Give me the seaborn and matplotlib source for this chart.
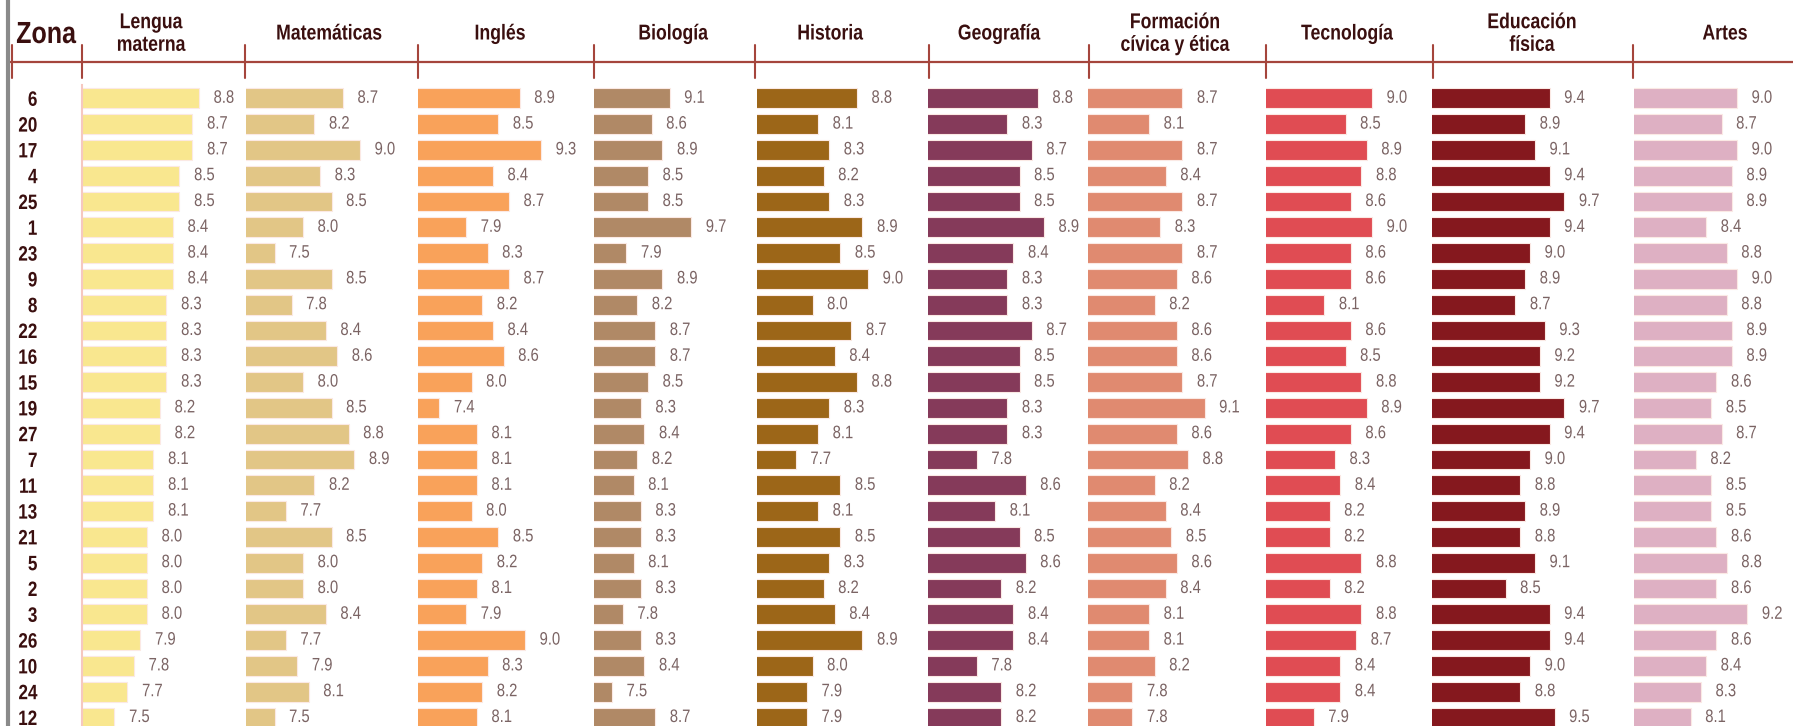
import matplotlib
matplotlib.use("Agg")
import matplotlib.pyplot as plt
from matplotlib.lines import Line2D
from matplotlib.patheffects import AbstractPathEffect
from matplotlib.transforms import Affine2D
import seaborn as sns

# zones in display order
zonas = ['6', '20', '17', '4', '25', '1', '23', '9', '8', '22', '16', '15', '19',
         '27', '7', '11', '13', '21', '5', '2', '3', '26', '10', '24', '12']

lengua = [8.8, 8.7, 8.7, 8.5, 8.5, 8.4, 8.4, 8.4, 8.3, 8.3, 8.3, 8.3, 8.2,
          8.2, 8.1, 8.1, 8.1, 8.0, 8.0, 8.0, 8.0, 7.9, 7.8, 7.7, 7.5]
matematicas = [8.7, 8.2, 9.0, 8.3, 8.5, 8.0, 7.5, 8.5, 7.8, 8.4, 8.6, 8.0, 8.5,
               8.8, 8.9, 8.2, 7.7, 8.5, 8.0, 8.0, 8.4, 7.7, 7.9, 8.1, 7.5]
ingles = [8.9, 8.5, 9.3, 8.4, 8.7, 7.9, 8.3, 8.7, 8.2, 8.4, 8.6, 8.0, 7.4,
          8.1, 8.1, 8.1, 8.0, 8.5, 8.2, 8.1, 7.9, 9.0, 8.3, 8.2, 8.1]
biologia = [9.1, 8.6, 8.9, 8.5, 8.5, 9.7, 7.9, 8.9, 8.2, 8.7, 8.7, 8.5, 8.3,
            8.4, 8.2, 8.1, 8.3, 8.3, 8.1, 8.3, 7.8, 8.3, 8.4, 7.5, 8.7]
historia = [8.8, 8.1, 8.3, 8.2, 8.3, 8.9, 8.5, 9.0, 8.0, 8.7, 8.4, 8.8, 8.3,
            8.1, 7.7, 8.5, 8.1, 8.5, 8.3, 8.2, 8.4, 8.9, 8.0, 7.9, 7.9]
geografia = [8.8, 8.3, 8.7, 8.5, 8.5, 8.9, 8.4, 8.3, 8.3, 8.7, 8.5, 8.5, 8.3,
             8.3, 7.8, 8.6, 8.1, 8.5, 8.6, 8.2, 8.4, 8.4, 7.8, 8.2, 8.2]
civica = [8.7, 8.1, 8.7, 8.4, 8.7, 8.3, 8.7, 8.6, 8.2, 8.6, 8.6, 8.7, 9.1,
          8.6, 8.8, 8.2, 8.4, 8.5, 8.6, 8.4, 8.1, 8.1, 8.2, 7.8, 7.8]
tecnologia = [9.0, 8.5, 8.9, 8.8, 8.6, 9.0, 8.6, 8.6, 8.1, 8.6, 8.5, 8.8, 8.9,
              8.6, 8.3, 8.4, 8.2, 8.2, 8.8, 8.2, 8.8, 8.7, 8.4, 8.4, 7.9]
ed_fisica = [9.4, 8.9, 9.1, 9.4, 9.7, 9.4, 9.0, 8.9, 8.7, 9.3, 9.2, 9.2, 9.7,
             9.4, 9.0, 8.8, 8.9, 8.8, 9.1, 8.5, 9.4, 9.4, 9.0, 8.8, 9.5]
artes = [9.0, 8.7, 9.0, 8.9, 8.9, 8.4, 8.8, 9.0, 8.8, 8.9, 8.9, 8.6, 8.5,
         8.7, 8.2, 8.5, 8.5, 8.6, 8.8, 8.6, 9.2, 8.6, 8.4, 8.3, 8.1]

titulos = ['Lengua\nmaterna', 'Matemáticas', 'Inglés', 'Biología', 'Historia',
           'Geografía', 'Formación\ncívica y ética', 'Tecnología', 'Educación\nfísica', 'Artes']
series = [lengua, matematicas, ingles, biologia, historia,
          geografia, civica, tecnologia, ed_fisica, artes]

colores = ['#f9e78f', '#e2c686', '#f9a25a', '#b08966', '#9c6618',
           '#853a5a', '#e08a70', '#e04c53', '#85181e', '#deb0c3']

# layout in pixels (figure 1793 x 726)
W, H = 1793, 726
starts = [82, 246, 418, 594, 757, 928, 1088, 1266, 1432, 1634, 1793]
px_per_unit = [65, 57, 53.5, 36, 55.5, 61, 55.5, 53, 49, 51.5]
title_x = [151, 329, 500, 673, 830, 999, 1175, 1347, 1532, 1725]
sep_x = [12, 82, 245, 418, 594, 755, 929, 1089, 1266, 1433, 1633]
row0, pitch = 98.3, 25.8
base = 7.0


class Narrow(AbstractPathEffect):
    """squeeze text horizontally, like a condensed face"""
    def __init__(self, factor=0.82, anchor='left'):
        super().__init__()
        self.factor = factor
        self.anchor = anchor

    def draw_path(self, renderer, gc, tpath, affine, rgbFace=None):
        ext = tpath.get_extents()
        x0 = {'left': 0.0, 'center': (ext.x0 + ext.x1) / 2, 'right': ext.x1}[self.anchor]
        sq = Affine2D().translate(-x0, 0).scale(self.factor, 1).translate(x0, 0)
        renderer.draw_path(gc, tpath, sq + affine, rgbFace)


sns.set_style("white")
plt.rcParams['font.family'] = ['Liberation Sans', 'DejaVu Sans']

fig = plt.figure(figsize=(W / 100, H / 100), dpi=100)

top_px = row0 - pitch / 2
bot_px = row0 + pitch * (len(zonas) - 0.5)

for i, vals in enumerate(series):
    x0 = starts[i]
    w = starts[i + 1] - x0
    ax = fig.add_axes([x0 / W, 1 - bot_px / H, w / W, (bot_px - top_px) / H])
    sns.barplot(x=vals, y=zonas, order=zonas, orient='h', ax=ax, color=colores[i],
                saturation=1, width=0.775, edgecolor='#fbe9e4', linewidth=0.8)
    ax.set_xlim(base, base + w / px_per_unit[i])
    ax.set_ylim(len(zonas) - 0.5, -0.5)
    labels = ax.bar_label(ax.containers[0], fmt='%.1f', padding=10.5,
                          color='#7b6464', fontsize=13)
    for t in labels:
        t.set_path_effects([Narrow(anchor='left')])
    ax.set_xticks([])
    ax.set_xlabel('')
    ax.set_ylabel('')
    for s in ax.spines.values():
        s.set_visible(False)
    if i == 0:
        ax.spines['left'].set_visible(True)
        ax.spines['left'].set_color('#f6c8c0')
        ax.spines['left'].set_linewidth(1.5)
        ax.tick_params(axis='y', length=0, pad=32)
        for t in ax.get_yticklabels():
            t.set_fontweight('bold')
            t.set_fontsize(15)
            t.set_color('#3a0f0f')
            t.set_path_effects([Narrow(anchor='right')])
    else:
        ax.set_yticks([])
    ax.patch.set_alpha(0)

# header
fig.text(46 / W, 1 - 35 / H, 'Zona', ha='center', va='center', fontsize=22,
         fontweight='bold', color='#3a0f0f', path_effects=[Narrow(anchor='center')])
for t, cx in zip(titulos, title_x):
    fig.text(cx / W, 1 - 34 / H, t, ha='center', va='center', fontsize=15.5,
             fontweight='bold', color='#3a0f0f', linespacing=1.1,
             path_effects=[Narrow(anchor='center')])

line_col = '#a5453c'
fig.add_artist(Line2D([9 / W, 1], [1 - 61.5 / H] * 2, color=line_col, lw=1.6,
                      transform=fig.transFigure))
for sx in sep_x:
    fig.add_artist(Line2D([sx / W] * 2, [1 - 45 / H, 1 - 78 / H], color=line_col,
                          lw=1.5, transform=fig.transFigure))

# grey bar on the left edge
fig.add_artist(Line2D([7.5 / W] * 2, [0, 1], color='#8a8a8a', lw=3,
                      transform=fig.transFigure))

fig.savefig('out.png', dpi=100)
